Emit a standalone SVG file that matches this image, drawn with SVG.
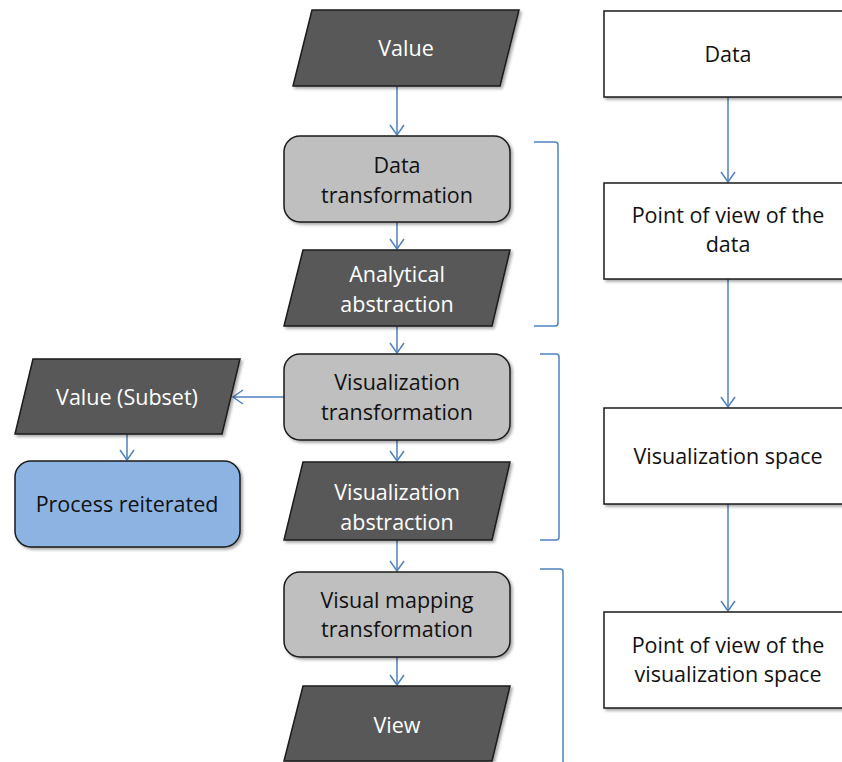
<svg xmlns="http://www.w3.org/2000/svg" width="842" height="762" viewBox="0 0 842 762">
<style>
.dark{fill:#595959;stroke:#1a1a1a;stroke-width:1.5}
.grey{fill:#bfbfbf;stroke:#1a1a1a;stroke-width:1.5}
.blue{fill:#8db3e2;stroke:#1a1a1a;stroke-width:1.5}
.white{fill:#ffffff;stroke:#1a1a1a;stroke-width:1.5}
text{font-family:"Open Sans","Liberation Sans",sans-serif;font-size:21.5px;text-anchor:middle}
.wt{fill:#ffffff}
.bt{fill:#111111}
.conn{fill:none;stroke:#4f81bd;stroke-width:1.5}
.br{fill:none;stroke:#4f81bd;stroke-width:1.5}
</style>
<defs>
<filter id="sh" x="-10%" y="-10%" width="130%" height="140%">
<feDropShadow dx="2" dy="2" stdDeviation="1.5" flood-color="#000" flood-opacity="0.35"/>
</filter>
<marker id="arr" markerWidth="14" markerHeight="16" refX="11" refY="8" orient="auto" markerUnits="userSpaceOnUse">
<path d="M1,1 L11,8 L1,15" fill="none" stroke="#4f81bd" stroke-width="1.5"/>
</marker>
</defs>

<g id="connectors">
<line class="conn" x1="397" y1="86" x2="397" y2="135" marker-end="url(#arr)"/>
<line class="conn" x1="397" y1="222" x2="397" y2="249" marker-end="url(#arr)"/>
<line class="conn" x1="397" y1="326" x2="397" y2="353" marker-end="url(#arr)"/>
<line class="conn" x1="397" y1="440" x2="397" y2="461" marker-end="url(#arr)"/>
<line class="conn" x1="397" y1="540" x2="397" y2="571" marker-end="url(#arr)"/>
<line class="conn" x1="397" y1="657" x2="397" y2="685" marker-end="url(#arr)"/>
<line class="conn" x1="284" y1="397" x2="233" y2="397" marker-end="url(#arr)"/>
<line class="conn" x1="127" y1="434" x2="127" y2="460" marker-end="url(#arr)"/>
<line class="conn" x1="728" y1="97" x2="728" y2="182" marker-end="url(#arr)"/>
<line class="conn" x1="728" y1="279" x2="728" y2="407" marker-end="url(#arr)"/>
<line class="conn" x1="728" y1="504" x2="728" y2="611" marker-end="url(#arr)"/>
</g>

<g id="brackets">
<path class="br" d="M534,142 L555,142 Q558,142 558,145 L558,323 Q558,326 555,326 L534,326"/>
<path class="br" d="M540,354 L556,354 Q559,354 559,357 L559,537 Q559,540 556,540 L540,540"/>
<path class="br" d="M540,569 L560,569 Q563,569 563,572 L563,762"/>
</g>

<g id="value">
<polygon class="dark" filter="url(#sh)" points="312,10 519,10 500,86 293,86"/>
<text class="wt" x="406" y="56">Value</text>
</g>

<g id="data-transformation">
<rect class="grey" filter="url(#sh)" x="284" y="136" width="226" height="86" rx="16"/>
<text class="bt" x="397" y="173">Data</text>
<text class="bt" x="397" y="203">transformation</text>
</g>

<g id="analytical-abstraction">
<polygon class="dark" filter="url(#sh)" points="303,250 510,250 492,326 284,326"/>
<text class="wt" x="397" y="282">Analytical</text>
<text class="wt" x="397" y="312">abstraction</text>
</g>

<g id="visualization-transformation">
<rect class="grey" filter="url(#sh)" x="284" y="354" width="226" height="86" rx="16"/>
<text class="bt" x="397" y="390">Visualization</text>
<text class="bt" x="397" y="420">transformation</text>
</g>

<g id="value-subset">
<polygon class="dark" filter="url(#sh)" points="33,359 240,359 222,434 15,434"/>
<text class="wt" x="127" y="405">Value (Subset)</text>
</g>

<g id="process-reiterated">
<rect class="blue" filter="url(#sh)" x="15" y="461" width="225" height="86" rx="16"/>
<text class="bt" x="127" y="512">Process reiterated</text>
</g>

<g id="visualization-abstraction">
<polygon class="dark" filter="url(#sh)" points="303,462 510,462 492,540 284,540"/>
<text class="wt" x="397" y="500">Visualization</text>
<text class="wt" x="397" y="530">abstraction</text>
</g>

<g id="visual-mapping-transformation">
<rect class="grey" filter="url(#sh)" x="284" y="572" width="226" height="85" rx="16"/>
<text class="bt" x="397" y="608">Visual mapping</text>
<text class="bt" x="397" y="637">transformation</text>
</g>

<g id="view">
<polygon class="dark" filter="url(#sh)" points="303,686 510,686 492,761 284,761"/>
<text class="wt" x="397" y="733">View</text>
</g>

<g id="data">
<rect class="white" filter="url(#sh)" x="604" y="11" width="260" height="86"/>
<text class="bt" x="728" y="62">Data</text>
</g>

<g id="pov-data">
<rect class="white" filter="url(#sh)" x="604" y="183" width="260" height="96"/>
<text class="bt" x="728" y="223">Point of view of the</text>
<text class="bt" x="728" y="252">data</text>
</g>

<g id="visualization-space">
<rect class="white" filter="url(#sh)" x="604" y="408" width="260" height="96"/>
<text class="bt" x="728" y="464">Visualization space</text>
</g>

<g id="pov-visualization-space">
<rect class="white" filter="url(#sh)" x="604" y="612" width="260" height="96"/>
<text class="bt" x="728" y="653">Point of view of the</text>
<text class="bt" x="728" y="682">visualization space</text>
</g>
</svg>
